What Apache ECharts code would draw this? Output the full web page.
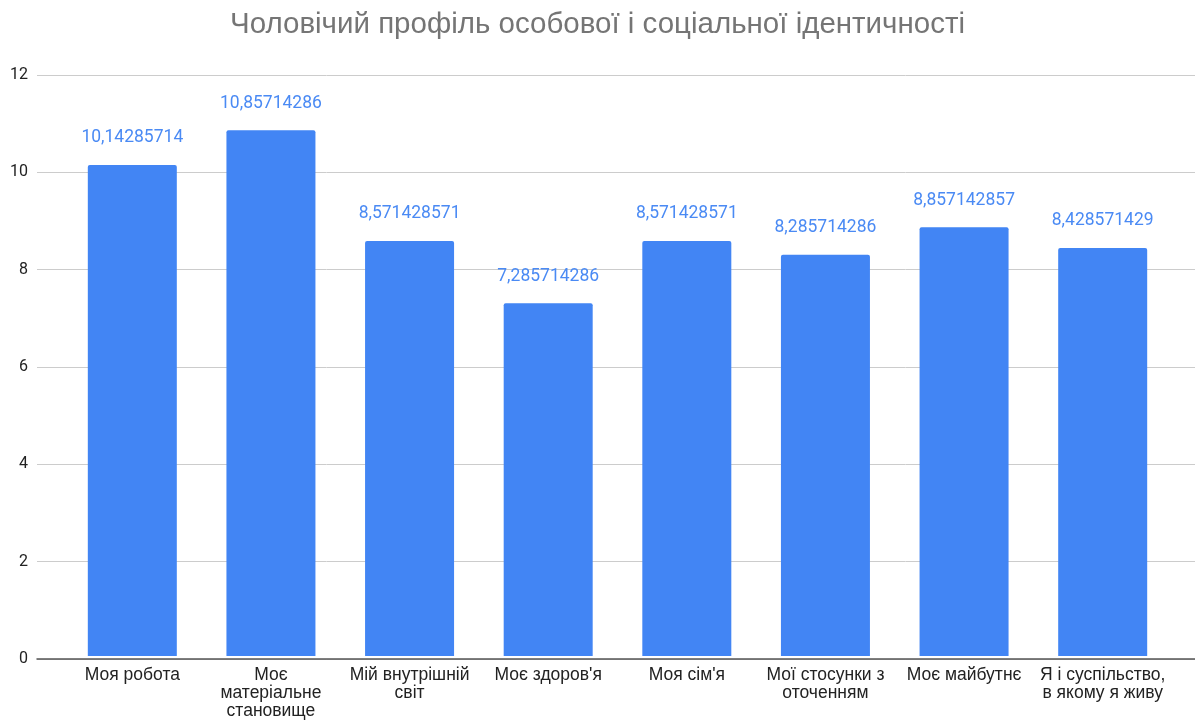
<!DOCTYPE html>
<html><head><meta charset="utf-8">
<script src="https://cdn.jsdelivr.net/npm/echarts@6/dist/echarts.min.js"></script>
<style>html,body{margin:0;padding:0;background:#fff}#c{width:1195px;height:720px}</style>
</head><body><div id="c"></div>
<script>
const title = 'Чоловічий профіль особової і соціальної ідентичності';
const categories = ['Моя робота', 'Моє\nматеріальне\nстановище', 'Мій внутрішній\nсвіт', 'Моє здоров\'я', 'Моя сім\'я', 'Мої стосунки з\nоточенням', 'Моє майбутнє', 'Я і суспільство,\nв якому я живу'];
const values = [10.14285714, 10.85714286, 8.571428571, 7.285714286, 8.571428571, 8.285714286, 8.857142857, 8.428571429];
const yMin = 0, yMax = 12, yStep = 2;

const chart = echarts.init(document.getElementById('c'));
const font = 'Roboto';
const sans = '"Liberation Sans", Arial, sans-serif';
chart.setOption({
  animation: false,
  title: {text: title, left: 'center', top: 5, textStyle: {fontFamily: sans, fontSize: 29.5, fontWeight: 'normal', color: '#757575'}},
  grid: [
    {left: 37, right: 0, top: 75, bottom: 61, containLabel: false},
    {left: 63, right: 23, top: 75, bottom: 61, containLabel: false}
  ],
  xAxis: [
    {gridIndex: 0, type: 'category', data: [''], axisLine: {show: true, lineStyle: {color: '#555', width: 1.5}}, axisTick: {show: false}, axisLabel: {show: false}},
    {gridIndex: 1, type: 'category', data: categories, axisLine: {show: false}, axisTick: {show: false},
      axisLabel: {interval: 0, margin: 10, color: '#222', fontFamily: sans, fontSize: 17.5, lineHeight: 18}}
  ],
  yAxis: [
    {gridIndex: 0, type: 'value', min: yMin, max: yMax, interval: yStep, axisLine: {show: false}, axisTick: {show: false},
      axisLabel: {margin: 9, color: '#222', fontFamily: font, fontSize: 16}, splitLine: {lineStyle: {color: '#cccccc', width: 1}}},
    {gridIndex: 1, type: 'value', min: yMin, max: yMax, interval: yStep, show: false, splitLine: {show: false}}
  ],
  series: [{
    type: 'bar', xAxisIndex: 1, yAxisIndex: 1, data: values, barWidth: 89,
    itemStyle: {color: '#4285F4', borderRadius: [2, 2, 0, 0]},
    label: {show: true, position: 'top', distance: 18, color: '#4a8af4', fontFamily: font, fontSize: 17.5,
      formatter: p => String(p.value).replace('.', ',')}
  }]
});
</script></body></html>
